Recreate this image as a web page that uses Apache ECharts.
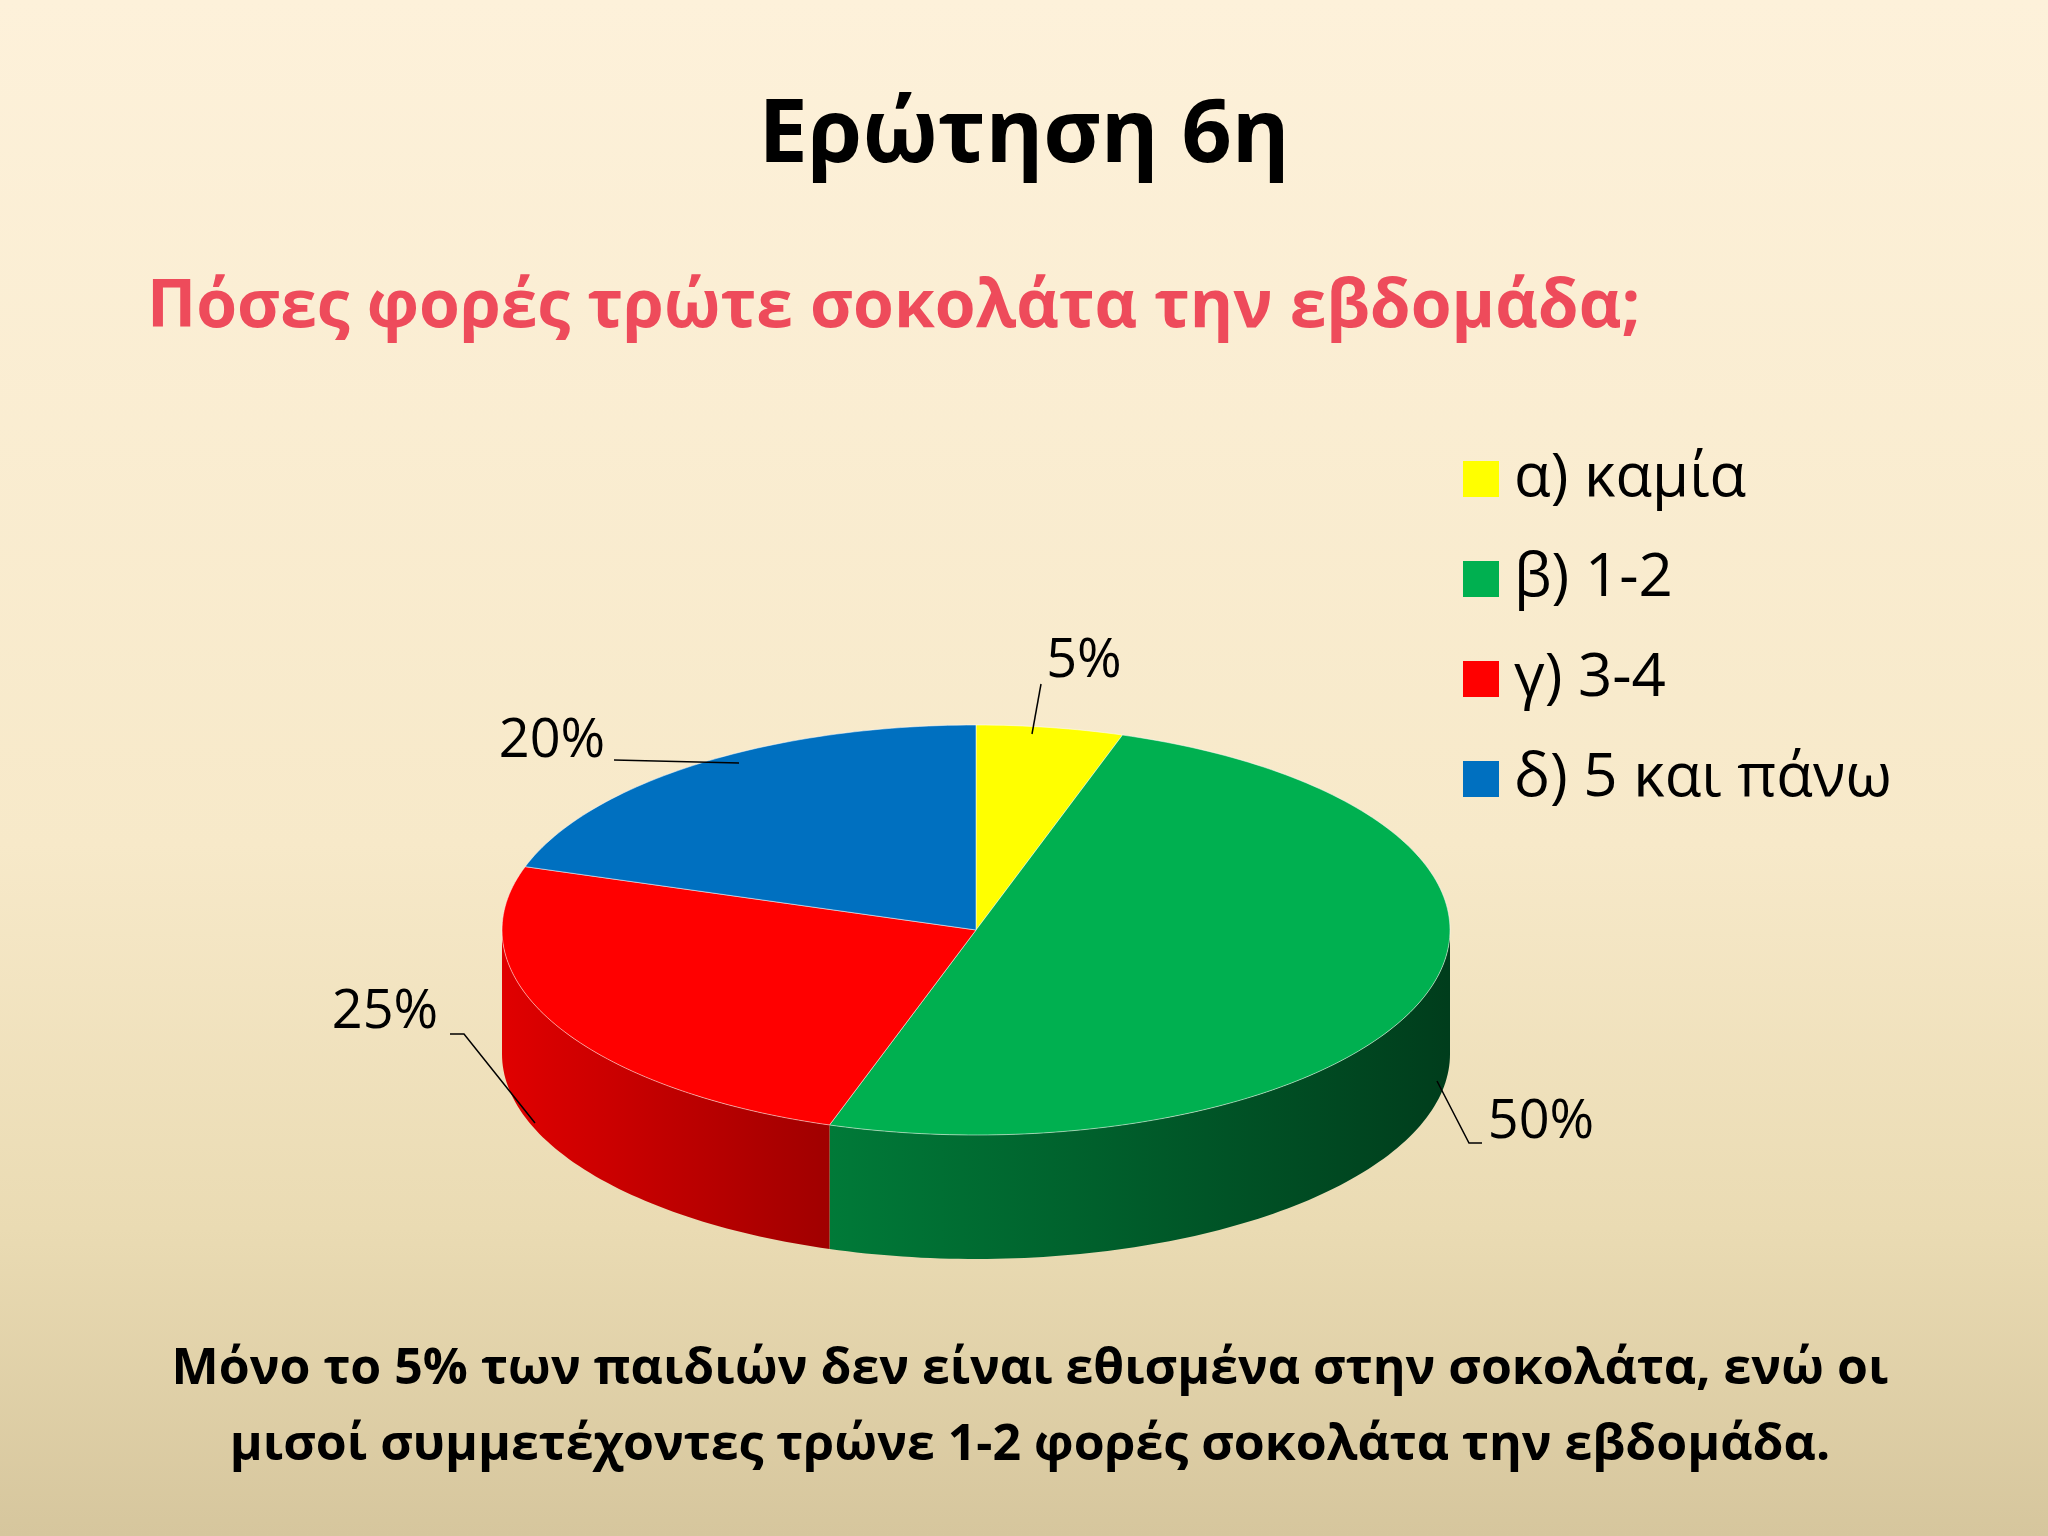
<!DOCTYPE html>
<html><head><meta charset="utf-8">
<script src="https://cdn.jsdelivr.net/npm/echarts@6/dist/echarts.min.js"></script>
<style>html,body{margin:0;padding:0;}#c{width:2048px;height:1536px;background:linear-gradient(#fdf1da 0%,#f7e9c9 55%,#eadbb3 80%,#d6c69d 100%);}</style>
</head><body><div id="c"></div>
<script>
const categories = ['α) καμία', 'β) 1-2', 'γ) 3-4', 'δ) 5 και πάνω'];
const values = [5, 50, 25, 20];
const labels = ['5%', '50%', '25%', '20%'];
const colors = ['#ffff00', '#00b050', '#ff0000', '#0070c0'];
const wallColors = [['#cccc00','#999900'], ['#007a38','#003d1c'], ['#e00000','#a00000'], ['#005a9a','#003a66']];
const labelPos = [[1084,662],[1541,1123],[385,1013],[552,742]];
const leaders = [
  [[1032,734],[1041,684]],
  [[1437,1081],[1469,1143],[1482,1143]],
  [[535,1123],[464,1034],[450,1034]],
  [[739,763],[614,760]]
];
const CX=976, CY=930, RX=474, RY=205, DEPTH=124;
const total = values.reduce((a,b)=>a+b,0);
function pt(th, dy){ return [CX + RX*Math.sin(th), CY - RY*Math.cos(th) + (dy||0)]; }
function arc(a0,a1,dy){ const pts=[]; const n=Math.max(2,Math.ceil((a1-a0)/0.02)); for(let i=0;i<=n;i++){pts.push(pt(a0+(a1-a0)*i/n,dy));} return pts; }
function makeSeries(idx){
  return {
    type:'custom', name:categories[idx], coordinateSystem:'none',
    itemStyle:{color:colors[idx]},
    data:[values[idx]],
    renderItem:function(params, api){
      let start=0; for(let k=0;k<idx;k++) start+=values[k];
      const a0=start/total*2*Math.PI, a1=(start+values[idx])/total*2*Math.PI;
      const children=[];
      const f0=Math.max(a0,Math.PI/2), f1=Math.min(a1,3*Math.PI/2);
      if(f1>f0){
        const top=arc(f0,f1,0), bot=arc(f0,f1,DEPTH).reverse();
        children.push({type:'polygon',shape:{points:top.concat(bot)},
          style:{fill:new echarts.graphic.LinearGradient(0,0,1,0,[{offset:0,color:wallColors[idx][0]},{offset:1,color:wallColors[idx][1]}]),stroke:null}});
      }
      const face=[[CX,CY]].concat(arc(a0,a1,0));
      children.push({type:'polygon',shape:{points:face},style:{fill:colors[idx],stroke:'rgba(255,255,255,0.5)',lineWidth:1}});
      children.push({type:'polyline',shape:{points:leaders[idx]},style:{stroke:'#000',lineWidth:1.5,fill:null}});
      children.push({type:'text',x:labelPos[idx][0],y:labelPos[idx][1],style:{text:labels[idx],font:'54px "Open Sans", sans-serif',fill:'#000',align:'center',verticalAlign:'middle'}});
      return {type:'group',children:children};
    }
  };
}
const chart = echarts.init(document.getElementById('c'));
chart.setOption({
  animation:false,
  title:[
    {text:'Ερώτηση 6η',left:'center',top:88,textStyle:{fontSize:88,fontWeight:'bold',color:'#000',fontFamily:'Open Sans'}},
    {text:'Πόσες φορές τρώτε σοκολάτα την εβδομάδα;',left:142,top:270,textStyle:{fontSize:66,fontWeight:'bold',color:'#ee4b5b',fontFamily:'Open Sans'}}
  ],
  graphic:[{type:'text',x:1030,y:1332,style:{text:'Μόνο το 5% των παιδιών δεν είναι εθισμένα στην σοκολάτα, ενώ οι\nμισοί συμμετέχοντες τρώνε 1-2 φορές σοκολάτα την εβδομάδα.',
    font:'bold 50px "Open Sans", sans-serif',fill:'#000',align:'center',lineHeight:76}}],
  legend:{orient:'vertical',left:1458,top:444,itemWidth:36,itemHeight:36,itemGap:40,icon:'rect',
    textStyle:{fontSize:60,color:'#000',fontFamily:'Open Sans',padding:[0,0,0,10]},data:categories},
  series:[0,1,2,3].map(makeSeries)
});
</script></body></html>
